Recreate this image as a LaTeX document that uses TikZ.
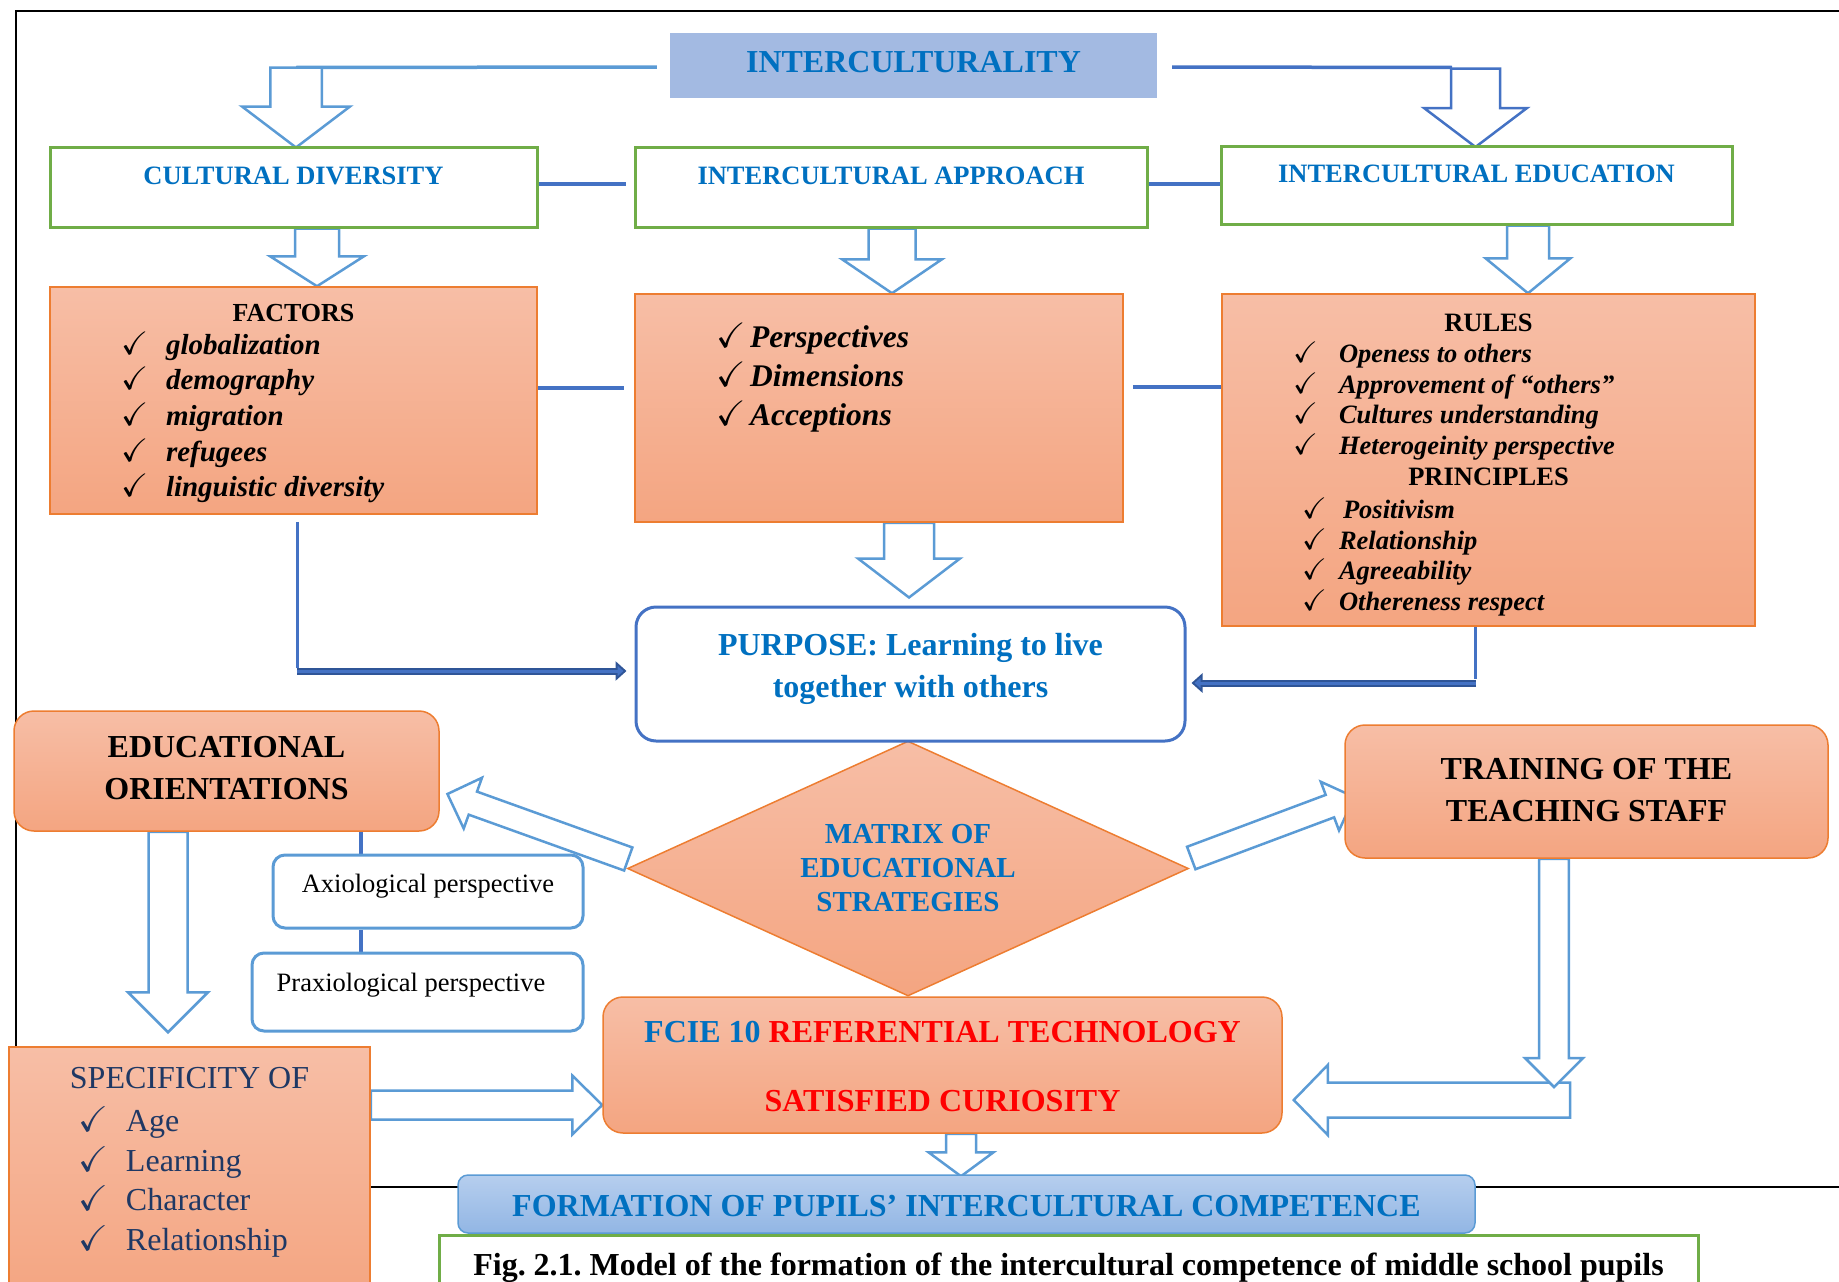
\documentclass[tikz,border=0pt]{standalone}
\usepackage{fontspec}
\setmainfont{Liberation Serif}
\usepackage{amssymb}
\usetikzlibrary{positioning, calc, shapes.geometric, arrows.meta}

\definecolor{txtblue}{HTML}{0070C0}
\definecolor{txtred}{HTML}{FF0000}
\definecolor{txtnavy}{HTML}{1F3864}
\definecolor{boxgreen}{HTML}{70AD47}
\definecolor{boxorange}{HTML}{ED7D31}
\definecolor{orangetop}{HTML}{F7BEA6}
\definecolor{orangebot}{HTML}{F4A581}
\definecolor{arrowblue}{HTML}{5B9BD5}
\definecolor{linkblue}{HTML}{4472C4}
\definecolor{darkblue}{HTML}{2F5597}
\definecolor{interblue}{HTML}{A3BAE2}
\definecolor{formtop}{HTML}{B6CEEE}
\definecolor{formbot}{HTML}{92B6E4}

\pgfdeclarelayer{background}
\pgfsetlayers{background,main}

\newcommand{\chk}[1]{\makebox[#1][l]{\scalebox{1.12}{$\checkmark$}}}
\newcommand{\inbox}[4]{\parbox[c][#1][t]{#2}{\centering\rule{0pt}{#3}#4}}
% hollow block arrow: [colour]{tail}{tip}{shaft half width}{head half width}{head length}
\newcommand{\blockarrow}[6][arrowblue]{%
  \coordinate (bahead) at ($(#3)!#6!(#2)$);
  \draw[blockarrow, draw=#1] ($(#2)!#4!90:(#3)$) -- ($(bahead)!#4!90:(#3)$)
    -- ($(bahead)!#5!90:(#3)$) -- (#3) -- ($(bahead)!#5!-90:(#3)$)
    -- ($(bahead)!#4!-90:(#3)$) -- ($(#2)!#4!-90:(#3)$) -- cycle;
}

\tikzset{
  greenbox/.style={draw=boxgreen, line width=3pt, fill=white, inner sep=0pt,
    text=txtblue, font=\bfseries\fontsize{26.5}{32}\selectfont},
  orangebox/.style={draw=boxorange, line width=1.5pt, top color=orangetop,
    bottom color=orangebot, inner sep=0pt},
  orangeround/.style={orangebox, rounded corners=20pt,
    font=\bfseries\fontsize{32}{42}\selectfont},
  purposebox/.style={draw=linkblue, line width=3pt, fill=white, rounded corners=20pt,
    inner sep=0pt, text=txtblue, font=\bfseries\fontsize{32}{42}\selectfont},
  perspbox/.style={draw=arrowblue, line width=3pt, fill=white, rounded corners=12pt,
    inner sep=0pt, font=\fontsize{26.5}{32}\selectfont},
  formbox/.style={draw=arrowblue, line width=1.5pt, top color=formtop, bottom color=formbot,
    rounded corners=10pt, inner sep=0pt, text=txtblue, font=\bfseries\fontsize{32}{38}\selectfont},
  capbox/.style={draw=boxgreen, line width=3pt, fill=white, inner sep=0pt,
    font=\bfseries\fontsize{32}{38}\selectfont},
  blockarrow/.style={line width=2.5pt, fill=white, line join=miter},
  link/.style={draw=linkblue, line width=4.5pt},
  thinlink/.style={draw=linkblue, line width=3pt},
  dblout/.style={draw=darkblue, line width=7pt, -{Triangle[length=11pt,width=19pt]}},
  dblin/.style={draw=linkblue, line width=3pt, shorten >=3pt, -{Triangle[length=6pt,width=10pt]}},
}

\begin{document}
\begin{tikzpicture}[x=1pt, y=-1pt]
\useasboundingbox (0,0) rectangle (1839,1282);

% top row
\node[fill=interblue, inner sep=0pt, text=txtblue, font=\bfseries\fontsize{32}{38}\selectfont]
  (inter) at (913.5,65.5) {\inbox{65pt}{487pt}{39.7pt}{INTERCULTURALITY}};
\node[greenbox] (cd) at (293.5,187) {\inbox{80pt}{487pt}{37.3pt}{CULTURAL DIVERSITY}};
\node[greenbox] (ia) at (891,187) {\inbox{80pt}{512pt}{37.3pt}{INTERCULTURAL APPROACH}};
\node[greenbox] (ie) at (1476.5,185) {\inbox{78pt}{511pt}{36.3pt}{INTERCULTURAL EDUCATION}};

% lists
\node[orangebox] (factors) at (293.5,400.5) {\parbox[c][227pt][t]{487pt}{%
  {\centering\bfseries\fontsize{26}{31}\selectfont\rule{0pt}{34.7pt}FACTORS\par}
  \vspace{-3pt}
  {\leftskip=71pt\bfseries\itshape\fontsize{29}{35.6}\selectfont
  \chk{45pt}globalization\par
  \chk{45pt}demography\par
  \chk{45pt}migration\par
  \chk{45pt}refugees\par
  \chk{45pt}linguistic diversity\par}}};
\node[orangebox] (ialist) at (879,408) {\parbox[c][228pt][t]{488pt}{%
  \leftskip=81pt\bfseries\itshape\fontsize{31.5}{39.3}\selectfont
  \rule{0pt}{53pt}\chk{34pt}Perspectives\par
  \chk{34pt}Dimensions\par
  \chk{34pt}Acceptions\par}};
\node[orangebox] (rules) at (1488.5,460) {\parbox[c][332pt][t]{533pt}{%
  \bfseries\fontsize{26.5}{30.7}\selectfont
  {\centering\rule{0pt}{37.7pt}RULES\par}
  {\leftskip=71pt\itshape
  \chk{46pt}Openess to others\par
  \chk{46pt}Approvement of “others”\par
  \chk{46pt}Cultures understanding\par
  \chk{46pt}Heterogeinity perspective\par}
  {\centering PRINCIPLES\par}
  \vspace{2.5pt}
  {\leftskip=80pt\itshape
  \chk{37pt}\hspace{4pt}Positivism\par
  \chk{37pt}Relationship\par
  \chk{37pt}Agreeability\par
  \chk{37pt}Othereness respect\par}}};

% middle
\node[diamond, aspect=2.2, minimum width=561pt, minimum height=255pt, inner sep=0pt,
  draw=boxorange, line width=1.5pt, top color=orangetop, bottom color=orangebot,
  align=center, text=txtblue, font=\bfseries\fontsize{29}{34}\selectfont]
  (strat) at (908,868.5) {MATRIX OF\\EDUCATIONAL\\STRATEGIES};
\node[purposebox] (purpose) at (910.5,674)
  {\inbox{134pt}{549pt}{48pt}{PURPOSE: Learning to live\\together with others}};
\node[orangeround] (eo) at (226.5,771) {\inbox{120pt}{425pt}{46.5pt}{EDUCATIONAL\\ORIENTATIONS}};
\node[orangeround] (training) at (1586.5,791.5)
  {\inbox{133pt}{483pt}{54.3pt}{TRAINING OF THE\\TEACHING STAFF}};
\node[perspbox] (axio) at (428,891.5) {\inbox{73pt}{310pt}{37.8pt}{Axiological perspective}};
\node[perspbox, below=22pt of axio.south east, anchor=north east] (prax)
  {\inbox{78pt}{331pt}{38pt}{\hspace*{-13pt}Praxiological perspective}};

% bottom
\node[orangeround] (fcie) at (942.5,1065) {\inbox{136pt}{679pt}{45.7pt}{%
  \textcolor{txtblue}{FCIE 10} \textcolor{txtred}{REFERENTIAL TECHNOLOGY}\\[27pt]
  \textcolor{txtred}{SATISFIED CURIOSITY}}};
\node[orangebox, text=txtnavy, font=\fontsize{32}{39.5}\selectfont] (spec) at (189.5,1173.5)
  {\parbox[c][253pt][t]{361pt}{%
  {\centering\rule{0pt}{41pt}SPECIFICITY OF\par}
  \vspace{4pt}
  {\leftskip=70pt
  \chk{47pt}Age\par
  \chk{47pt}Learning\par
  \chk{47pt}Character\par
  \chk{47pt}Relationship\par}}};
\node[formbox] (form) at (966.5,1204)
  {\inbox{58pt}{1017pt}{41.7pt}{FORMATION OF PUPILS’ INTERCULTURAL COMPETENCE}};
\node[capbox] (caption) at (1068.5,1270) {\inbox{70pt}{1259pt}{40.5pt}{\frenchspacing Fig. 2.1. Model of
  the formation of the intercultural competence of middle school pupils}};

\begin{pgfonlayer}{background}
% frame
\draw[line width=2.5pt] (1850,11) -- (16,11) -- (16,1187) -- (1850,1187);

% links
\coordinate (cdin) at (296,67.5);
\coordinate (ieend) at (1452,67.5);
\coordinate (iein) at (1475.5,68.5);
\draw[thinlink, draw=arrowblue, line width=3.5pt] ([xshift=-13pt,yshift=-1.5pt]inter.west) -- (cdin);
\draw[thinlink, line width=3.5pt] ([xshift=15pt,yshift=-1.5pt]inter.east) -- (ieend);
\draw[link] ([yshift=3pt]cd.east) -- ([xshift=-8pt,yshift=3pt]ia.west);
\draw[link] ([yshift=3pt]ia.east) -- ([yshift=1pt]ie.west);
\draw[link] ([yshift=12.5pt]factors.east) -- ([xshift=-10pt,yshift=20pt]ialist.west);
\draw[link] ([xshift=9pt,yshift=21pt]ialist.east) -- ([yshift=73pt]rules.west);
\draw[link] ([xshift=134.5pt]eo.south) -- ([xshift=-67pt]axio.north);
\draw[link] ([xshift=-67pt]axio.south) -- ([xshift=-56.5pt]prax.north);

\coordinate (fbend) at (297,668);
\coordinate (fstart) at (296.5,671);
\draw[thinlink] ([xshift=3.5pt,yshift=-7pt]factors.south) -- (fbend);
\draw[dblout] (fstart) -- ([xshift=-8pt,yshift=3pt]purpose.west);
\draw[dblin] (fstart) -- ([xshift=-8pt,yshift=3pt]purpose.west);
\coordinate (rbend) at (1475,679);
\coordinate (rstart) at (1476,683);
\draw[thinlink] ([xshift=-13.5pt]rules.south) -- (rbend);
\draw[dblout] (rstart) -- ([xshift=5pt,yshift=-9pt]purpose.east);
\draw[dblin] (rstart) -- ([xshift=5pt,yshift=-9pt]purpose.east);

% block arrows
\coordinate (cdtip) at ([xshift=2.5pt,yshift=-2pt]cd.north);
\blockarrow{cdin}{cdtip}{25.75pt}{54pt}{41pt}
\coordinate (ietip) at ([xshift=-1pt,yshift=-2.5pt]ie.north);
\blockarrow[linkblue]{iein}{ietip}{24.5pt}{51.5pt}{39pt}
\coordinate (a3s) at ([xshift=23.5pt]cd.south);
\coordinate (a3e) at ([xshift=23.5pt]factors.north);
\blockarrow{a3s}{a3e}{22pt}{47pt}{30pt}
\coordinate (a4s) at ([xshift=1pt]ia.south);
\coordinate (a4e) at ([xshift=13pt]ialist.north);
\blockarrow{a4s}{a4e}{23.5pt}{50pt}{34pt}
\coordinate (a5s) at ([xshift=51.5pt]ie.south);
\coordinate (a5e) at ([xshift=39.5pt]rules.north);
\blockarrow{a5s}{a5e}{21pt}{42.5pt}{35pt}
\coordinate (a6s) at ([xshift=30pt]ialist.south);
\coordinate (a6e) at ([xshift=-1.5pt,yshift=8pt]purpose.north);
\blockarrow{a6s}{a6e}{25pt}{51pt}{39pt}
\coordinate (a7s) at ([xshift=1.5pt,yshift=9.5pt]strat.west);
\coordinate (a7e) at ([xshift=7.7pt,yshift=-23pt]eo.east);
\blockarrow{a7s}{a7e}{12.25pt}{27pt}{27pt}
\coordinate (a8s) at ([xshift=2pt,yshift=10.5pt]strat.east);
\coordinate (a8e) at ([xshift=10pt,yshift=-5.5pt]training.west);
\blockarrow{a8s}{a8e}{12pt}{26pt}{26pt}
\coordinate (a9s) at ([xshift=-58.5pt]eo.south);
\coordinate (a9e) at ([xshift=-21.5pt,yshift=14pt]spec.north);
\blockarrow{a9s}{a9e}{19.5pt}{40pt}{40pt}
\coordinate (a10s) at ([yshift=68.5pt]spec.east);
\coordinate (a10e) at ([yshift=-40pt]fcie.west);
\blockarrow{a10s}{a10e}{14.5pt}{29.5pt}{30pt}
\coordinate (a12s) at (1570,1100);
\coordinate (a12e) at ([xshift=11pt,yshift=-35pt]fcie.east);
\blockarrow{a12s}{a12e}{17.5pt}{35pt}{34pt}
\coordinate (a11s) at ([xshift=-32.5pt]training.south);
\coordinate (a11e) at (1554,1087);
\blockarrow{a11s}{a11e}{14.8pt}{29pt}{29pt}
\coordinate (a13s) at ([xshift=18.5pt]fcie.south);
\coordinate (a13e) at ([xshift=-5.5pt,yshift=-2pt]form.north);
\blockarrow{a13s}{a13e}{15pt}{32.5pt}{24pt}
\end{pgfonlayer}
\end{tikzpicture}
\end{document}
